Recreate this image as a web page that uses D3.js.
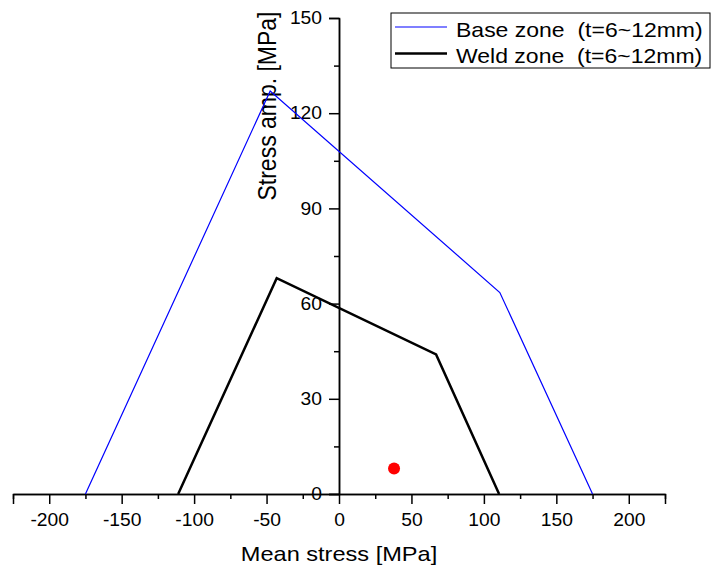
<!DOCTYPE html>
<html>
<head>
<meta charset="utf-8">
<script src="https://cdn.jsdelivr.net/npm/d3@7"></script>
<style>
  body { margin: 0; background: #fff; }
  svg { display: block; font-family: Arial, "Liberation Sans", sans-serif; }
</style>
</head>
<body>
<div id="chart"></div>
<script>
(function() {
  const width = 711;
  const height = 567;

  // ===== Dados =====
  const baseZone = [[-175, 0], [-47.5, 127], [111, 63.5], [175, 0]];
  const weldZone = [[-111, 0], [-43, 68], [67, 44], [110.5, 0]];
  const measured = [[38, 8]];
  const xTicks = [-200, -150, -100, -50, 0, 50, 100, 150, 200];
  const xMinor = [-225, -175, -125, -75, -25, 25, 75, 125, 175, 225];
  const yTicks = [0, 30, 60, 90, 120, 150];
  const yMinor = [15, 45, 75, 105, 135];
  const seriesNames = ["Base zone  (t=6~12mm)", "Weld zone  (t=6~12mm)"];

  // o texto do original é um pouco esticado na horizontal
  const stretch = 1.15;

  const svg = d3.select("#chart").append("svg")
    .attr("width", width)
    .attr("height", height);

  const x = d3.scaleLinear().domain([-225, 225]).range([13, 665]);
  const y = d3.scaleLinear().domain([0, 150]).range([494, 18]);

  // eixo X
  const gx = svg.append("g").attr("transform", `translate(0,${y(0)})`);
  gx.call(d3.axisBottom(x).tickValues(xMinor).tickFormat("").tickSize(5).tickSizeOuter(0));
  gx.call(g => g.append("g").call(d3.axisBottom(x).tickValues(xTicks).tickFormat(d => String(d)).tickSize(10).tickPadding(6)));
  gx.selectAll("path.domain").attr("stroke", "#000").attr("stroke-width", 1.5);
  gx.selectAll("line").attr("stroke", "#000").attr("stroke-width", 1.5);
  gx.selectAll("text")
    .attr("font-size", 18).attr("fill", "#000").attr("font-family", null)
    .attr("y", 32).attr("dy", null)
    .attr("transform", "scale(1.07,1)");

  // eixo Y
  const gy = svg.append("g").attr("transform", `translate(${x(0)},0)`);
  gy.call(d3.axisLeft(y).tickValues(yMinor).tickFormat("").tickSize(5).tickSizeOuter(0));
  gy.call(g => g.append("g").call(d3.axisLeft(y).tickValues(yTicks).tickFormat(d => String(d)).tickSize(10).tickPadding(7)));
  gy.selectAll("path.domain").attr("stroke", "#000").attr("stroke-width", 1.5);
  gy.selectAll("line").attr("stroke", "#000").attr("stroke-width", 1.5);
  gy.selectAll("text")
    .attr("font-size", 18).attr("fill", "#000").attr("font-family", null)
    .attr("x", -17 / 1.07)
    .attr("transform", "scale(1.07,1)");

  // títulos
  svg.append("text")
    .attr("transform", `translate(${x(0)},561) scale(${stretch},1)`)
    .attr("text-anchor", "middle")
    .attr("font-size", 20.5)
    .text("Mean stress [MPa]");

  svg.append("text")
    .attr("transform", `translate(276,106) scale(${stretch},1) rotate(-90)`)
    .attr("text-anchor", "middle")
    .attr("font-size", 23)
    .text("Stress amp. [MPa]");

  // linhas
  const line = d3.line().x(d => x(d[0])).y(d => y(d[1]));

  svg.append("path")
    .datum(baseZone)
    .attr("d", line)
    .attr("fill", "none")
    .attr("stroke", "#0000ff")
    .attr("stroke-width", 1.2);

  svg.append("path")
    .datum(weldZone)
    .attr("d", line)
    .attr("fill", "none")
    .attr("stroke", "#000")
    .attr("stroke-width", 2.5);

  svg.selectAll("circle.pt")
    .data(measured)
    .join("circle")
    .attr("class", "pt")
    .attr("cx", d => x(d[0]))
    .attr("cy", d => y(d[1]))
    .attr("r", 6)
    .attr("fill", "#ff0000");

  // legenda
  const legend = svg.append("g");
  legend.append("rect")
    .attr("x", 391).attr("y", 13)
    .attr("width", 319).attr("height", 55)
    .attr("fill", "#fff")
    .attr("stroke", "#000")
    .attr("stroke-width", 1);

  const legendColors = ["#0000ff", "#000"];
  const legendWidths = [1.2, 2.5];
  seriesNames.forEach((name, i) => {
    const ly = 27 + i * 26.5;
    legend.append("line")
      .attr("x1", 395).attr("x2", 447)
      .attr("y1", ly).attr("y2", ly)
      .attr("stroke", legendColors[i])
      .attr("stroke-width", legendWidths[i]);
    legend.append("text")
      .attr("transform", `translate(456,${ly + 9.5}) scale(${stretch},1)`)
      .attr("font-size", 20)
      .style("white-space", "pre")
      .text(name);
  });
})();
</script>
</body>
</html>
